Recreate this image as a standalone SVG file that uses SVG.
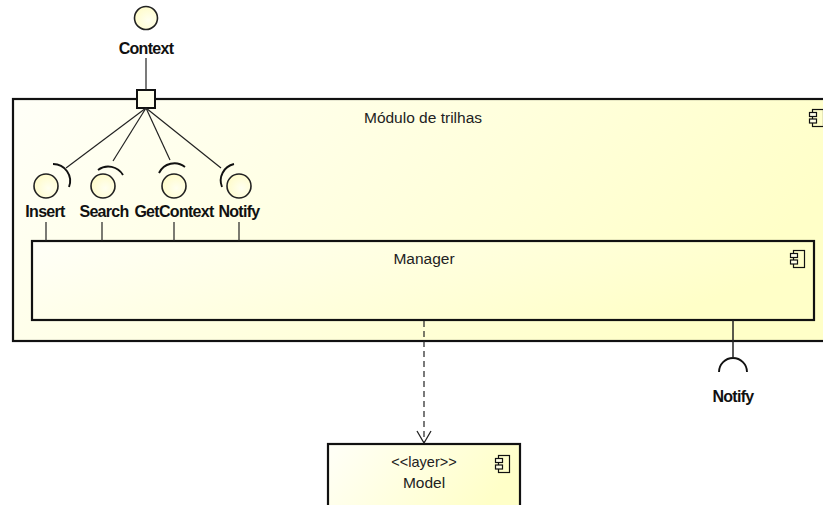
<svg xmlns="http://www.w3.org/2000/svg" width="823" height="505" viewBox="0 0 823 505">
<defs>
<linearGradient id="g" x1="0" y1="0" x2="1" y2="0.3">
<stop offset="0" stop-color="#fffff8"/>
<stop offset="1" stop-color="#ffffc8"/>
</linearGradient>
<radialGradient id="cg" cx="0.6" cy="0.6" r="0.6">
<stop offset="0" stop-color="#fffff0"/>
<stop offset="1" stop-color="#fffccc"/>
</radialGradient>
<symbol id="icon" overflow="visible">
<rect x="3.5" y="0.5" width="11" height="17" fill="none" stroke="#111" stroke-width="1.2"/>
<rect x="0.5" y="3.5" width="7" height="4" fill="#ffffe8" stroke="#111" stroke-width="1.2"/>
<rect x="0.5" y="10" width="7" height="4" fill="#ffffe8" stroke="#111" stroke-width="1.2"/>
</symbol>
<marker id="open" markerWidth="16" markerHeight="16" refX="14" refY="8" orient="auto" markerUnits="userSpaceOnUse">
<path d="M2 1 L14 8 L2 15" fill="none" stroke="#222" stroke-width="1.3"/>
</marker>
</defs>
<style>
.box{fill:url(#g);stroke:#111;stroke-width:2.2}
.ln{stroke:#222;stroke-width:1.2;fill:none}
.lol{fill:url(#cg);stroke:#222;stroke-width:1.6}
.sock{fill:none;stroke:#111;stroke-width:1.9}
.b{font-family:"Liberation Sans",Arial,sans-serif;font-weight:bold;font-size:16px;fill:#111;text-anchor:middle;letter-spacing:-0.7px}
.r{font-family:"Liberation Sans",Arial,sans-serif;font-size:15.5px;fill:#222;text-anchor:middle}
</style>

<g id="modulo">
<rect class="box" x="13" y="99" width="830" height="242"/>
<text class="r" x="423" y="123">Módulo de trilhas</text>
<use href="#icon" x="809" y="109"/>
</g>

<g id="manager">
<rect class="box" x="32" y="241" width="782" height="79"/>
<text class="r" x="424" y="264">Manager</text>
<use href="#icon" x="790" y="250"/>
</g>

<g id="model">
<rect class="box" x="328" y="444" width="192" height="70"/>
<text class="r" x="424" y="467" style="font-size:14.5px">&lt;&lt;layer&gt;&gt;</text>
<text class="r" x="424" y="488">Model</text>
<use href="#icon" x="495" y="455"/>
</g>

<g id="context">
<circle class="lol" cx="146" cy="18" r="11.5"/>
<text class="b" x="146" y="54">Context</text>
</g>

<g id="port">
<rect x="137" y="90" width="18" height="18" fill="#ffffec" stroke="#111" stroke-width="2"/>
</g>

<g id="insert">
<circle class="lol" cx="46" cy="186" r="12"/>
<path class="sock" d="M53 164 A17 17 0 0 1 69 187"/>
<text class="b" x="45" y="217">Insert</text>
</g>
<g id="search">
<circle class="lol" cx="103" cy="186" r="12"/>
<path class="sock" d="M98 170 A17 17 0 0 1 123 175"/>
<text class="b" x="104" y="217">Search</text>
</g>
<g id="getcontext">
<circle class="lol" cx="174" cy="186" r="12"/>
<path class="sock" d="M159 173 A17 17 0 0 1 185 167"/>
<text class="b" x="174" y="217">GetContext</text>
</g>
<g id="notify">
<circle class="lol" cx="239" cy="186" r="12"/>
<path class="sock" d="M234 164 A17 17 0 0 0 222 187"/>
<text class="b" x="239" y="217">Notify</text>
</g>

<g id="notify-req">
<path class="sock" d="M719 372 A14 14 0 0 1 747 372"/>
<text class="b" x="733" y="402">Notify</text>
</g>

<g id="connectors">
<line class="ln" x1="146" y1="58" x2="146" y2="90"/>
<line class="ln" x1="146" y1="108" x2="66" y2="168"/>
<line class="ln" x1="146" y1="108" x2="113" y2="161"/>
<line class="ln" x1="146" y1="108" x2="170" y2="160"/>
<line class="ln" x1="146" y1="108" x2="221" y2="168"/>
<line class="ln" x1="46" y1="222" x2="46" y2="241"/>
<line class="ln" x1="102" y1="222" x2="102" y2="241"/>
<line class="ln" x1="174" y1="222" x2="174" y2="241"/>
<line class="ln" x1="239" y1="222" x2="239" y2="241"/>
<line class="ln" x1="733" y1="320" x2="733" y2="358" style="stroke-width:1.5"/>
<line class="ln" x1="424" y1="321" x2="424" y2="443" stroke-dasharray="6 4" marker-end="url(#open)"/>
</g>
</svg>
